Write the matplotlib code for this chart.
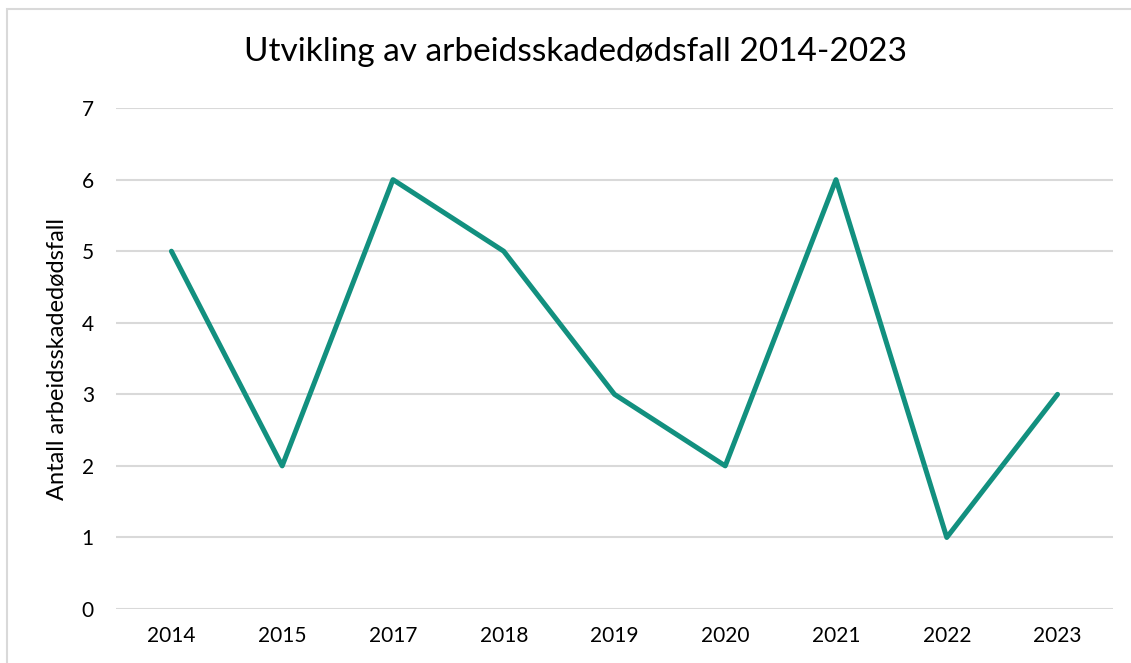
import matplotlib
import matplotlib.pyplot as plt
from matplotlib.patches import Rectangle

matplotlib.rcParams['font.family'] = ['Lato', 'DejaVu Sans']

years = ['2014', '2015', '2017', '2018', '2019', '2020', '2021', '2022', '2023']
deaths = [5, 2, 6, 5, 3, 2, 6, 1, 3]

line_color = '#12907f'
grid_color = '#d9d9d9'
text_color = '#000000'

fig = plt.figure(figsize=(11.31, 6.63), dpi=100)
ax = fig.add_axes([0.1026, 0.0814, 0.8814, 0.7556])

# outer chart border (extends past right/bottom edge)
fig.patches.append(Rectangle((7/1131, -0.1), 1.2, 1 - 9/663 + 0.1, transform=fig.transFigure,
                             fill=False, edgecolor=grid_color, linewidth=1.5))

x = list(range(len(years)))
ax.plot(x, deaths, color=line_color, linewidth=3.6, solid_joinstyle='round', solid_capstyle='round', zorder=3)

ax.set_xlim(-0.5, len(years) - 0.5)
ax.set_ylim(0, 7)
ax.set_yticks(range(0, 8))
ax.set_xticks(x)
ax.set_xticklabels(years)
ax.yaxis.grid(True, color=grid_color, linewidth=1.5)
ax.set_axisbelow(True)
for sp in ax.spines.values():
  sp.set_visible(False)
ax.tick_params(axis='both', length=0, labelsize=15, colors=text_color)
ax.tick_params(axis='y', pad=16)
ax.tick_params(axis='x', pad=12)

ax.set_ylabel('Antall arbeidsskadedødsfall', fontsize=17, color=text_color, labelpad=10)
fig.text(0.509, 0.922, 'Utvikling av arbeidsskadedødsfall 2014-2023', ha='center', va='center',
         fontsize=24, color=text_color)

fig.savefig('out.png', dpi=100)
